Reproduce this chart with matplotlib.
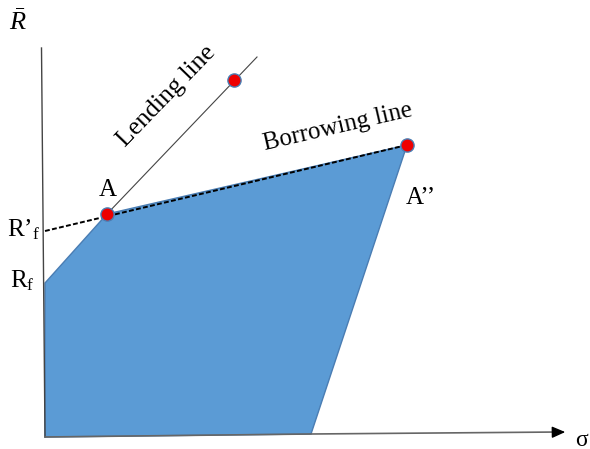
import matplotlib.pyplot as plt
import matplotlib as mpl

mpl.rcParams['font.family'] = ['Liberation Serif', 'DejaVu Serif']
mpl.rcParams['mathtext.fontset'] = 'custom'
mpl.rcParams['mathtext.rm'] = 'Liberation Serif'
mpl.rcParams['mathtext.it'] = 'Liberation Serif:italic'

# diagram geometry in image pixel units (x right, y down)
region_x = [45, 45, 107, 407, 311]
region_y = [437, 283, 214, 145, 434]

yaxis_x = [41.5, 45]
yaxis_y = [48, 437]
xaxis_x = [45, 311, 560]
xaxis_y = [437, 434, 432]

lending_x = [107, 257]
lending_y = [214, 57]
borrow_x = [45, 407]
borrow_y = [231, 145]

dots_x = [107, 234, 407]
dots_y = [214, 80, 145]

fig = plt.figure(figsize=(5.9, 4.49), dpi=100)
ax = fig.add_axes([0, 0, 1, 1])
ax.set_xlim(0, 590)
ax.set_ylim(449, 0)
ax.axis('off')

ax.fill(region_x, region_y, facecolor='#5b9bd5', edgecolor='#4a7db3', lw=1, zorder=1)
ax.plot(yaxis_x, yaxis_y, color='#444444', lw=1, zorder=2)
ax.plot(xaxis_x, xaxis_y, color='#666666', lw=1.2, zorder=2)
ax.annotate('', xy=(568, 432), xytext=(555, 432.2),
            arrowprops=dict(arrowstyle='-|>,head_length=0.8,head_width=0.35',
                            color='black', lw=1))
ax.plot(lending_x, lending_y, color='#444444', lw=0.8, zorder=3)
ax.plot(borrow_x, borrow_y, color='black', lw=1.4, ls=(0, (2.5, 1.2)), zorder=3)
ax.plot(dots_x, dots_y, 'o', ms=9.5, mfc='#ee0000', mec='#4a7db3', mew=1, zorder=4)

ax.text(18, 22, r'$\bar{R}$', fontsize=19, ha='center', va='center')
ax.text(582, 440, 'σ', fontsize=17, ha='center', va='center')
ax.text(24, 230, r'$\mathregular{R’_f}$', fontsize=18, ha='center', va='center')
ax.text(22, 281, r'$\mathregular{R_f}$', fontsize=18, ha='center', va='center')
ax.text(108, 190, 'A', fontsize=18, ha='center', va='center')
ax.text(421, 198, 'A’’', fontsize=18, ha='center', va='center')
ax.text(167, 96, 'Lending line', fontsize=18.5, ha='center', va='center',
        rotation=46, rotation_mode='anchor')
ax.text(338, 127, 'Borrowing line', fontsize=18, ha='center', va='center',
        rotation=13, rotation_mode='anchor')

fig.savefig('out.png', dpi=100)
